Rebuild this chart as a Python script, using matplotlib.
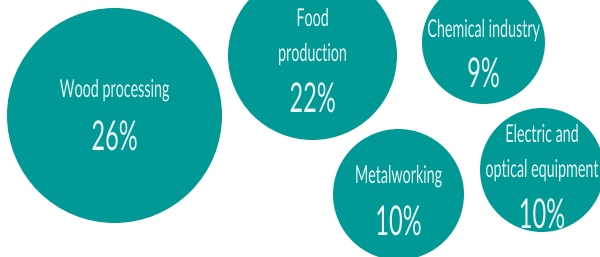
import matplotlib
matplotlib.use("Agg")
import matplotlib.pyplot as plt
from matplotlib.patches import Circle
from matplotlib import patheffects
from matplotlib.transforms import Affine2D

# ---- data ----
categories = ["Wood processing", "Food\nproduction", "Chemical industry",
              "Metalworking", "Electric and\noptical equipment"]
shares = [26, 22, 9, 10, 10]

# ---- layout (pixel coordinates): cx, cy, r, first label baseline, percent baseline ----
layout = [
    (114.5, 115.5, 107.5, 97, 150),
    (312.5, 55.5, 84.5, 26, 112),
    (483.5, 42.5, 61.5, 37, 87),
    (398.5, 194.5, 65.5, 183, 235),
    (542, 170, 62, 142, 228),
]
line_gap = 35

fill = "#009995"
txt_color = "#eaf6f5"


class Tall(patheffects.AbstractPathEffect):
    """Draw glyphs taller (condensed look) by stretching them about the baseline."""
    def __init__(self, sy, sx=1.0):
        super().__init__()
        self.sy = sy
        self.sx = sx

    def draw_path(self, renderer, gc, tpath, affine, rgbFace=None):
        ox, oy = affine.transform((0, 0))
        ext = affine.transform_path(tpath).get_extents()
        cx = (ext.x0 + ext.x1) / 2
        new_affine = affine + Affine2D().translate(-cx, -oy).scale(self.sx, self.sy).translate(cx, oy)
        renderer.draw_path(gc, tpath, new_affine, rgbFace)


fig = plt.figure(figsize=(6, 2.57), dpi=100)
ax = fig.add_axes([0, 0, 1, 1])
ax.set_xlim(0, 600)
ax.set_ylim(257, 0)
ax.axis("off")

font = ["Lato", "DejaVu Sans"]

for cat, val, (cx, cy, r, y0, yp) in zip(categories, shares, layout):
    ax.add_patch(Circle((cx, cy), r, facecolor=fill, edgecolor="none"))
    for i, line in enumerate(cat.split("\n")):
        ax.text(cx, y0 + i * line_gap, line, ha="center", va="baseline",
                fontsize=10.3, family=font, color=txt_color,
                path_effects=[Tall(1.72)])
    ax.text(cx, yp, f"{val}%", ha="center", va="baseline",
            fontsize=17, family=font, color=txt_color,
            path_effects=[Tall(1.74)])

fig.savefig("out.png", dpi=100)
